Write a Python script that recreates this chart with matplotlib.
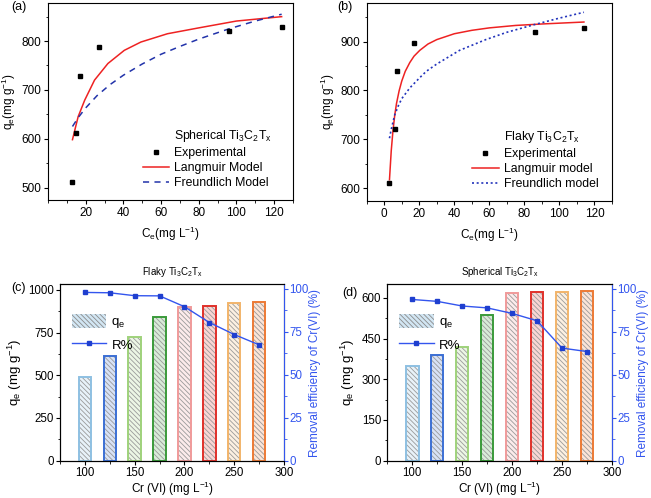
import numpy as np
import matplotlib
matplotlib.use('Agg')
import matplotlib.pyplot as plt
from matplotlib.lines import Line2D
from matplotlib.patches import Patch
from matplotlib.ticker import AutoMinorLocator, MultipleLocator
from matplotlib.colors import to_rgb

plt.rcParams['font.family'] = ['Liberation Sans', 'DejaVu Sans']
plt.rcParams['mathtext.fontset'] = 'custom'
plt.rcParams['mathtext.rm'] = 'Liberation Sans'
plt.rcParams['mathtext.it'] = 'Liberation Sans'
plt.rcParams['font.size'] = 8
plt.rcParams['hatch.linewidth'] = 0.6

# (a) spherical isotherm
a_ce = [13, 15, 17, 27, 96, 124]
a_qe = [511, 612, 729, 788, 820, 828]
a_lang_c = [13, 14.2, 16, 19.5, 24.7, 31.8, 40.5, 49.3, 63.4, 80, 100, 124]
a_lang_q = [598, 617, 645, 679, 720, 754, 781, 798, 815, 827, 841, 850]
a_freu_c = [13, 16, 20, 26, 33, 40, 50, 60, 70, 80, 96, 110, 124]
a_freu_q = [625, 643, 663, 688, 711, 730, 753, 773, 789, 804, 825, 841, 855]

# (b) flaky isotherm
b_ce = [2.8, 6.1, 7.4, 17, 86, 114]
b_qe = [611, 720, 839, 898, 920, 928]
b_lang_c = [3, 4, 5, 6, 7, 8.5, 10, 12, 14.6, 17, 20.3, 25, 30, 40, 50, 60, 75, 90, 114]
b_lang_q = [617, 676, 718, 749, 773, 799, 819, 839, 857, 870, 882, 895, 904, 916, 923, 928, 933, 936, 940]
b_freu_c = [3, 4, 5, 6, 8, 10, 14.6, 20, 24, 30, 43, 58, 70, 86, 100, 114]
b_freu_q = [702, 720, 735, 750, 768, 783, 805, 825, 839, 854, 882, 904, 919, 935, 948, 960]

# (c), (d) effect of initial concentration
cr = [100, 125, 150, 175, 200, 225, 250, 275]
c_qe = [490, 612, 722, 840, 900, 906, 920, 928]
c_r = [97.9, 97.7, 96.0, 95.9, 89.6, 80.4, 73.4, 67.4]
d_qe = [350, 390, 420, 538, 617, 620, 621, 625]
d_r = [93.8, 92.7, 90.0, 88.9, 85.7, 81.4, 65.5, 63.5]

bar_colors = ['#8ec0e2', '#3b6fd4', '#9fd27b', '#3a9a3a',
              '#f09a9a', '#e0302a', '#f2b46a', '#ec7a35']
blue = '#3355ee'
tx = r'Ti$_\mathregular{3}$C$_\mathregular{2}$T$_\mathregular{x}$'
qe = r'q$_\mathregular{e}$'

fig = plt.figure(figsize=(6.51, 4.98), dpi=100)


def style_iso(ax):
    ax.tick_params(direction='out', length=3, width=0.8, labelsize=8.5, pad=2)
    ax.tick_params(which='minor', direction='out', length=1.8, width=0.6)
    ax.xaxis.set_minor_locator(AutoMinorLocator(2))
    ax.yaxis.set_minor_locator(AutoMinorLocator(2))
    for s in ax.spines.values():
        s.set_linewidth(0.8)


# ---- (a)
ax1 = fig.add_axes([0.0737, 0.598, 0.3763, 0.396])
ax1.plot(a_lang_c, a_lang_q, color='#ee2222', lw=1.1)
ax1.plot(a_freu_c, a_freu_q, color='#2233aa', lw=1.1, dashes=(4, 3.5))
ax1.plot(a_ce, a_qe, 's', color='black', ms=3.5)
ax1.set_xlim(0, 130)
ax1.set_ylim(474, 878)
ax1.yaxis.set_major_locator(MultipleLocator(100))
ax1.set_xticks([20, 40, 60, 80, 100, 120])
style_iso(ax1)
ax1.set_xlabel(r'C$_\mathregular{e}$(mg L$^\mathregular{-1}$)', fontsize=8.5)
ax1.set_ylabel(qe + r'(mg g$^\mathregular{-1}$)', fontsize=8.5, labelpad=2)
h = [Line2D([], [], alpha=0),
     Line2D([], [], ls='none', marker='s', color='black', ms=3.5),
     Line2D([], [], color='#ee2222', lw=1.1),
     Line2D([], [], color='#2233aa', lw=1.1, dashes=(4, 3.5))]
ax1.legend(h, ['Spherical ' + tx, 'Experimental', 'Langmuir Model', 'Freundlich Model'],
           loc='lower right', bbox_to_anchor=(0.96, 0.0), frameon=False, fontsize=8.8,
           handlelength=2.2, handletextpad=0.4, labelspacing=0.25)
fig.text(0.018, 0.986, '(a)', fontsize=9, va='center')

# ---- (b)
ax2 = fig.add_axes([0.5633, 0.596, 0.3767, 0.398])
ax2.plot(b_lang_c, b_lang_q, color='#ee2222', lw=1.1)
ax2.plot(b_freu_c, b_freu_q, color='#2233bb', lw=1.2, dashes=(1.2, 1.6))
ax2.plot(b_ce, b_qe, 's', color='black', ms=3.5)
ax2.set_xlim(-10, 130)
ax2.set_ylim(573, 979)
ax2.set_xticks([0, 20, 40, 60, 80, 100, 120])
ax2.yaxis.set_major_locator(MultipleLocator(100))
style_iso(ax2)
ax2.set_xlabel(r'C$_\mathregular{e}$(mg L$^\mathregular{-1}$)', fontsize=8.5)
ax2.set_ylabel(qe + r'(mg g$^\mathregular{-1}$)', fontsize=8.5, labelpad=2)
h = [Line2D([], [], alpha=0),
     Line2D([], [], ls='none', marker='s', color='black', ms=3.5),
     Line2D([], [], color='#ee2222', lw=1.1),
     Line2D([], [], color='#2233bb', lw=1.2, dashes=(1.2, 1.6))]
ax2.legend(h, ['Flaky ' + tx, 'Experimental', 'Langmuir model', 'Freundlich model'],
           loc='lower right', bbox_to_anchor=(0.99, 0.0), frameon=False, fontsize=8.8,
           handlelength=2.2, handletextpad=0.4, labelspacing=0.25)
fig.text(0.518, 0.986, '(b)', fontsize=9, va='center')


def tint(c, f=0.8):
    r, g, b = to_rgb(c)
    return (r + (1 - r) * f, g + (1 - g) * f, b + (1 - b) * f)


def bar_panel(rect, qv, rr, ytop, ystep, title, label, lab_xy):
    ax = fig.add_axes(rect)
    for x, q, c in zip(cr, qv, bar_colors):
        ax.bar(x, q, width=12.5, color=tint(c), edgecolor='#9a9a9a', hatch='\\' * 7, lw=0)
        ax.bar(x, q, width=12.5, fill=False, edgecolor=c, lw=1.4)
    ax.set_xlim(75, 300)
    ax.set_ylim(0, ytop)
    ax.set_xticks([100, 150, 200, 250, 300])
    ax.xaxis.set_minor_locator(AutoMinorLocator(2))
    ax.yaxis.set_major_locator(MultipleLocator(ystep))
    ax.yaxis.set_minor_locator(AutoMinorLocator(2))
    ax.tick_params(direction='out', length=3, width=0.8, labelsize=8.3, pad=1.5)
    ax.tick_params(which='minor', direction='out', length=1.8, width=0.6)
    ax.set_xlabel(r'Cr (VI) (mg L$^\mathregular{-1}$)', fontsize=8.5, labelpad=0.5)
    ax.set_ylabel(qe + r' (mg g$^\mathregular{-1}$)', fontsize=9.5, labelpad=3)
    ax.set_title(title, fontsize=7, pad=7)
    axr = ax.twinx()
    axr.plot(cr, rr, '-s', color=blue, lw=1.0, ms=3.2, mfc='#1f3fcf', mec='#1f3fcf')
    axr.set_ylim(0, 102.6)
    axr.yaxis.set_major_locator(MultipleLocator(25))
    axr.yaxis.set_minor_locator(AutoMinorLocator(2))
    axr.tick_params(axis='y', colors=blue, direction='out', length=3, width=0.8, labelsize=8.3, pad=1)
    axr.tick_params(axis='y', which='minor', colors=blue, direction='out', length=1.8, width=0.6)
    axr.set_ylabel('Removal efficiency of Cr(VI) (%)', color=blue, fontsize=8.5, labelpad=0)
    for s in ax.spines.values():
        s.set_linewidth(0.8)
    for s in axr.spines.values():
        s.set_linewidth(0.8)
    axr.spines['right'].set_color(blue)
    hq = Patch(facecolor=tint('#8ec0e2', 0.6), edgecolor='#8a8a8a', hatch='\\' * 7, lw=0)
    hr = Line2D([], [], color=blue, lw=1.0, marker='s', ms=3.2, mfc='#1f3fcf', mec='#1f3fcf')
    axr.legend([hq, hr], [qe, 'R%'], loc='upper left', bbox_to_anchor=(0.0, 0.9),
               frameon=False, fontsize=9.5, handlelength=2.6, handleheight=1.3,
               handletextpad=0.4, labelspacing=0.5)
    fig.text(lab_xy[0], lab_xy[1], label, fontsize=9, va='center')
    return ax


bar_panel([0.0922, 0.075, 0.3441, 0.354], c_qe, c_r, 1032, 250,
          'Flaky ' + tx, '(c)', (0.018, 0.422))
bar_panel([0.595, 0.075, 0.345, 0.354], d_qe, d_r, 650, 150,
          'Spherical ' + tx, '(d)', (0.525, 0.412))

fig.savefig('out.png', dpi=100)
